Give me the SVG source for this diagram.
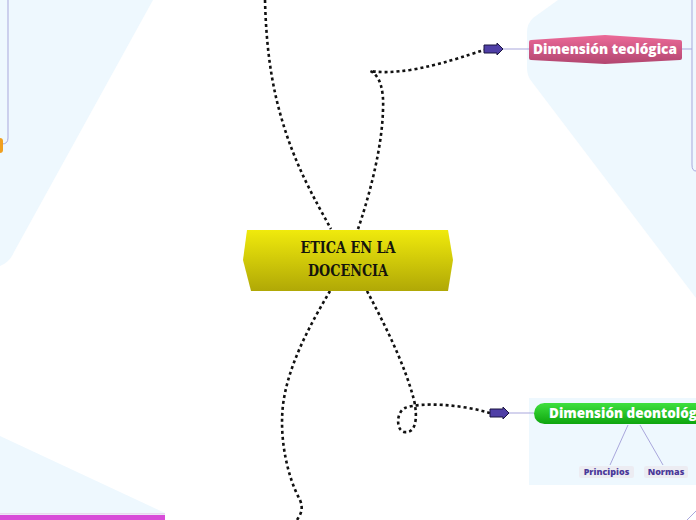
<svg xmlns="http://www.w3.org/2000/svg" width="696" height="520" viewBox="0 0 696 520">
<defs>
<style>
.bg{fill:#eef8fe;stroke:none}
.conn{fill:none;stroke:#111;stroke-width:2.6;stroke-dasharray:3 3}
.thin{fill:none;stroke:#a9a7dc;stroke-width:1}
.arrow{fill:#4f3fa6;stroke:#1b1440;stroke-width:1}
.ntext{font-family:"Open Sans","DejaVu Sans",sans-serif;font-weight:800;fill:#fff}
.sub{font-family:"Open Sans","DejaVu Sans",sans-serif;font-weight:800;fill:#4b3a9a;font-size:9px}
.ctext{font-family:"DejaVu Serif Condensed","DejaVu Serif",serif;font-weight:bold;font-size:17px;fill:#15150c}
</style>
<linearGradient id="gY" x1="0" y1="0" x2="0" y2="1">
<stop offset="0" stop-color="#f0ea0c"/><stop offset="1" stop-color="#b0a806"/>
</linearGradient>
<linearGradient id="gP" x1="0" y1="0" x2="0" y2="1">
<stop offset="0" stop-color="#ec6a98"/><stop offset="1" stop-color="#b24670"/>
</linearGradient>
<linearGradient id="gG" x1="0" y1="0" x2="0" y2="1">
<stop offset="0" stop-color="#3ee03e"/><stop offset="1" stop-color="#0ea50e"/>
</linearGradient>
</defs>
<rect width="696" height="520" fill="#fff"/>
<path class="bg" d="M0 0 L153 0 L14 252 Q10 262 0 266 Z"/>
<path class="bg" d="M558 0 L533 18 Q527 24 527 32 L527 68 Q527 76 532 82 L696 298 L696 0 Z"/>
<path class="bg" d="M0 436 L165 513 L165 520 L0 520 Z"/>
<rect class="bg" x="529" y="398" width="167" height="87"/>
<rect x="0" y="513" width="165" height="1.5" fill="#e8d8ee"/>
<rect x="0" y="515" width="165" height="5" fill="#d84cd8"/>
<path class="thin" d="M8 0 L8 138 Q8 144 2 144 L0 144"/>
<rect x="-6" y="138" width="9" height="15" rx="3" fill="#f0a020"/>
<g id="connectors">
<path class="conn" d="M265 0 C266 40 270 80 282 120 C295 165 315 200 331 229"/>
<path class="conn" d="M358 229 C368 200 382 150 383 110 C384 90 380 75 370 71 C385 73 395 72 410 70 C440 65 465 56 484 50"/>
<path class="conn" d="M367 291 C385 325 405 365 414 400 C418 418 416 434 404 432 C396 430 396 412 405 408 C420 402 460 404 490 413"/>
<path class="conn" d="M330 291 C310 325 288 365 283 405 C279 440 288 478 300 500 C304 510 300 515 297 520"/>
<path class="thin" d="M503 49 L530 49"/>
<path class="thin" d="M509 413 L534 413"/>
<path class="thin" d="M682 49 L692 49"/>
<path class="thin" d="M692 0 L692 165 Q692 171 696 171"/>
<path class="thin" d="M628 425 L610 465"/>
<path class="thin" d="M640 425 L663 465"/>
<path class="thin" d="M687 520 L696 511"/>
</g>
<g id="arrow1"><path class="arrow" d="M484 45 L497 45 L497 43 L503 49 L497 55 L497 53 L484 53 Z"/></g>
<g id="arrow2"><path class="arrow" d="M490 409 L503 409 L503 407 L509 413 L503 419 L503 417 L490 417 Z"/></g>
<g id="center">
<path d="M247 230 L448 230 L453 260 L448 291 L251 291 L243 260 Z" fill="url(#gY)"/>
<text class="ctext" x="348" y="253" text-anchor="middle" textLength="95" lengthAdjust="spacingAndGlyphs">ETICA EN LA</text>
<text class="ctext" x="348" y="276" text-anchor="middle" textLength="80" lengthAdjust="spacingAndGlyphs">DOCENCIA</text>
</g>
<g id="teologica">
<path d="M531 40 L605 35 L680 40 Q682 40 682 42 L682 58 Q682 60 680 60 L605 64 L531 60 Q529 60 529 58 L529 42 Q529 40 531 40 Z" fill="url(#gP)"/>
<text class="ntext" x="605" y="54" text-anchor="middle" font-size="14" textLength="144" lengthAdjust="spacingAndGlyphs">Dimensión teológica</text>
</g>
<g id="deontologica">
<rect x="534" y="403" width="190" height="21" rx="10.5" fill="url(#gG)"/>
<text class="ntext" x="549" y="418" font-size="14" textLength="168" lengthAdjust="spacingAndGlyphs">Dimensión deontológica</text>
</g>
<g id="principios">
<rect x="579" y="466" width="55" height="12" rx="2" fill="#ececf2"/>
<text class="sub" x="606.5" y="475" text-anchor="middle">Principios</text>
</g>
<g id="normas">
<rect x="644" y="466" width="44" height="12" rx="2" fill="#ececf2"/>
<text class="sub" x="666" y="475" text-anchor="middle">Normas</text>
</g>
</svg>
